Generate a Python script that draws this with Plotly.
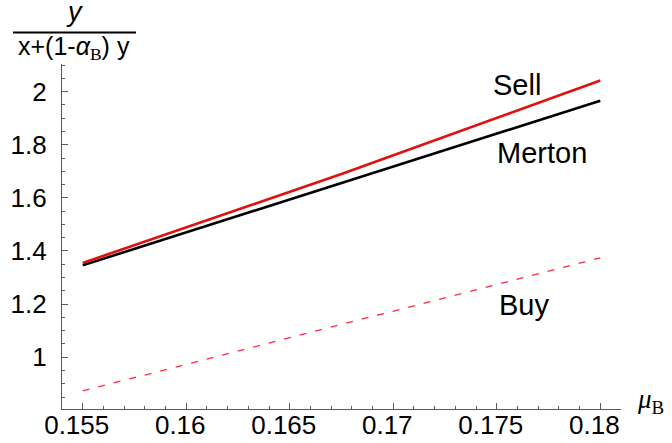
import plotly.graph_objects as go

# Drift parameter values and the three consumption-to-wealth curves
mu_b = [0.155, 0.1675, 0.18]
sell = [1.355, 1.690, 2.042]
merton = [1.346, 1.656, 1.966]
buy = [0.873, 1.124, 1.374]

x_ticks = [0.155, 0.16, 0.165, 0.17, 0.175, 0.18]
x_tick_text = ["0.155", "0.16", "0.165", "0.17", "0.175", "0.18"]
y_ticks = [1.0, 1.2, 1.4, 1.6, 1.8, 2.0]
y_tick_text = ["1", "1.2", "1.4", "1.6", "1.8", "2"]

curve_labels = ["Sell", "Merton", "Buy"]
label_x = [0.1760, 0.1772, 0.1763]
label_y = [2.025, 1.769, 1.197]

W, H = 672, 443
L, R, T, B = 62, 51, 64, 34


def px_x(px):
    return (px - L) / (W - L - R)


def px_y(py):
    return (H - B - py) / (H - T - B)


FONT = "Liberation Sans, Arial, sans-serif"
AXIS = "#5a5a5a"

fig = go.Figure()
fig.add_trace(go.Scatter(x=mu_b, y=buy, mode="lines",
                         line=dict(color="#ff2a45", width=1.3, dash="7px,9px")))
fig.add_trace(go.Scatter(x=mu_b, y=merton, mode="lines",
                         line=dict(color="black", width=2.6)))
fig.add_trace(go.Scatter(x=mu_b, y=sell, mode="lines",
                         line=dict(color="#e0100e", width=2.6)))

for txt, lx, ly in zip(curve_labels, label_x, label_y):
    fig.add_annotation(x=lx, y=ly, text=txt, showarrow=False,
                       font=dict(family=FONT, size=29, color="black"),
                       xanchor="center", yanchor="middle")

# Vertical axis title: y / (x + (1 - alpha_B) y)
fig.add_annotation(xref="paper", yref="paper", x=px_x(74), y=px_y(0),
                   text="<i>y</i>", showarrow=False,
                   font=dict(family=FONT, size=27, color="black"),
                   xanchor="center", yanchor="top", borderpad=0,
                   yshift=4)
fig.add_annotation(xref="paper", yref="paper", x=px_x(74), y=px_y(48),
                   text="x+(1-<i>α</i><sub><span style='font-family:Liberation Serif,serif'>B</span></sub>) y",
                   showarrow=False,
                   font=dict(family=FONT, size=25, color="black"),
                   xanchor="center", yanchor="middle")
fig.add_shape(type="line", xref="paper", yref="paper",
              x0=px_x(13), x1=px_x(136), y0=px_y(32.5), y1=px_y(32.5),
              line=dict(color="black", width=2))

# Horizontal axis title: mu_B
fig.add_annotation(xref="paper", yref="paper", x=px_x(635), y=px_y(401),
                   text="<i>μ</i><sub>B</sub>", showarrow=False,
                   font=dict(family="Liberation Serif, Times New Roman, serif",
                             size=27, color="black"),
                   xanchor="left", yanchor="middle")

fig.update_layout(
    width=W, height=H,
    margin=dict(l=L, r=R, t=T, b=B),
    plot_bgcolor="white", paper_bgcolor="white",
    showlegend=False,
    font=dict(family=FONT, size=26, color="black"),
    xaxis=dict(
        range=[0.154, 0.181], showgrid=False, zeroline=False,
        automargin=False,
        showline=True, linecolor=AXIS, linewidth=1.2,
        tickmode="array", tickvals=x_ticks, ticktext=x_tick_text,
        ticks="inside", ticklen=6, tickcolor=AXIS, tickwidth=1,
        tickfont=dict(family=FONT, size=26, color="black"),
        ticklabelshift=-6, ticklabelstandoff=-7,
        minor=dict(dtick=0.001, tick0=0.154, ticks="inside", ticklen=3,
                   tickcolor=AXIS, tickwidth=1, showgrid=False),
    ),
    yaxis=dict(
        range=[0.805, 2.104], showgrid=False, zeroline=False,
        automargin=False,
        showline=True, linecolor=AXIS, linewidth=1.2,
        tickmode="array", tickvals=y_ticks, ticktext=y_tick_text,
        ticks="inside", ticklen=6, tickcolor=AXIS, tickwidth=1,
        tickfont=dict(family=FONT, size=26, color="black"),
        ticklabelstandoff=9,
        minor=dict(dtick=0.05, tick0=0.8, ticks="inside", ticklen=3,
                   tickcolor=AXIS, tickwidth=1, showgrid=False),
    ),
)

fig.write_html("out.html")
